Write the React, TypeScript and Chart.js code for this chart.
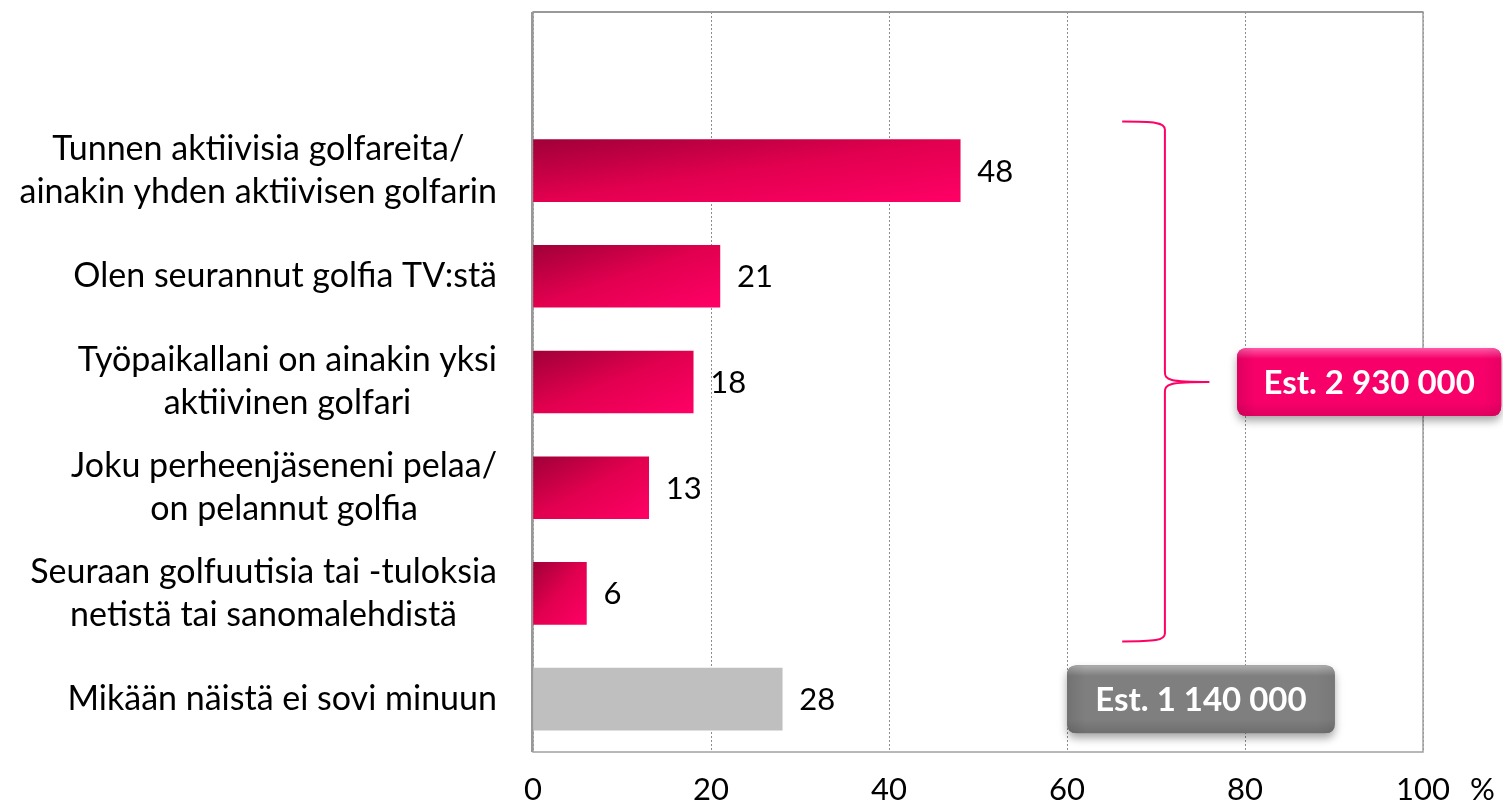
import React, { useEffect, useRef } from 'react';
import { Chart, registerables } from 'chart.js';
Chart.register(...registerables);

const categories: string[][] = [
  ['Tunnen aktiivisia golfareita/', 'ainakin yhden aktiivisen golfarin'],
  ['Olen seurannut golfia TV:stä'],
  ['Työpaikallani on ainakin yksi', 'aktiivinen golfari'],
  ['Joku perheenjäseneni pelaa/', 'on pelannut golfia'],
  ['Seuraan golfuutisia tai -tuloksia', 'netistä tai sanomalehdistä'],
  ['Mikään näistä ei sovi minuun'],
];
const values: number[] = [48, 21, 18, 13, 6, 28];
const xTicks: number[] = [0, 20, 40, 60, 80, 100];
const unitLabel = '%';
const estimatePink = 'Est. 2 930 000';
const estimateGray = 'Est. 1 140 000';

const FONT = 'Lato, "Open Sans", sans-serif';
const FS = 31;
const LABEL_FS = 34;
const W = 1503;
const H = 805;

function roundRect(ctx: CanvasRenderingContext2D, x: number, y: number, w: number, h: number, r: number) {
  ctx.beginPath();
  ctx.moveTo(x + r, y);
  ctx.lineTo(x + w - r, y);
  ctx.quadraticCurveTo(x + w, y, x + w, y + r);
  ctx.lineTo(x + w, y + h - r);
  ctx.quadraticCurveTo(x + w, y + h, x + w - r, y + h);
  ctx.lineTo(x + r, y + h);
  ctx.quadraticCurveTo(x, y + h, x, y + h - r);
  ctx.lineTo(x, y + r);
  ctx.quadraticCurveTo(x, y, x + r, y);
  ctx.closePath();
}

function drawBox(ctx: CanvasRenderingContext2D, x: number, y: number, w: number, h: number, base: string, light: string, dark: string, text: string) {
  ctx.save();
  ctx.shadowColor = 'rgba(0,0,0,0.35)';
  ctx.shadowBlur = 9;
  ctx.shadowOffsetY = 5;
  roundRect(ctx, x, y, w, h, 10);
  ctx.fillStyle = base;
  ctx.fill();
  ctx.restore();
  ctx.save();
  roundRect(ctx, x, y, w, h, 10);
  ctx.clip();
  const g = ctx.createLinearGradient(0, y, 0, y + h);
  g.addColorStop(0, light);
  g.addColorStop(0.16, base);
  g.addColorStop(0.8, base);
  g.addColorStop(1, dark);
  ctx.fillStyle = g;
  ctx.fillRect(x, y, w, h);
  const g2 = ctx.createLinearGradient(x, 0, x + w, 0);
  g2.addColorStop(0, 'rgba(0,0,0,0.10)');
  g2.addColorStop(0.07, 'rgba(0,0,0,0)');
  g2.addColorStop(0.93, 'rgba(0,0,0,0)');
  g2.addColorStop(1, 'rgba(0,0,0,0.06)');
  ctx.fillStyle = g2;
  ctx.fillRect(x, y, w, h);
  ctx.restore();
  ctx.save();
  ctx.fillStyle = '#FFFFFF';
  ctx.font = `bold 33px ${FONT}`;
  ctx.textAlign = 'center';
  ctx.textBaseline = 'middle';
  ctx.fillText(text, x + w / 2, y + h / 2 + 1);
  ctx.restore();
}

const overlayPlugin = {
  id: 'overlay',
  beforeDatasetsDraw(chart: any) {
    const { ctx, chartArea: a } = chart;
    ctx.save();
    ctx.strokeStyle = '#A0A0A0';
    ctx.lineWidth = 1.5;
    ctx.strokeRect(a.left, a.top, a.right - a.left, a.bottom - a.top);
    ctx.lineWidth = 2;
    ctx.strokeStyle = '#999999';
    ctx.beginPath();
    ctx.moveTo(a.left - 1, a.top);
    ctx.lineTo(a.left - 1, a.bottom);
    ctx.moveTo(a.left, a.top);
    ctx.lineTo(a.right, a.top);
    ctx.stroke();
    ctx.restore();
  },
  afterDraw(chart: any) {
    const { ctx } = chart;
    const xs = chart.scales.x;
    const ys = chart.scales.y;
    // category labels
    ctx.save();
    ctx.font = `${LABEL_FS}px ${FONT}`;
    ctx.fillStyle = '#000';
    ctx.textAlign = 'center';
    ctx.textBaseline = 'middle';
    const rightEdge = xs.left - 36;
    categories.forEach((lines, i) => {
      const yc = ys.getPixelForValue(i + 1);
      const maxW = Math.max(...lines.map((l) => ctx.measureText(l).width));
      const cx = rightEdge - maxW / 2;
      lines.forEach((l, j) => {
        ctx.fillText(l, cx, yc + (j - (lines.length - 1) / 2) * 43);
      });
    });
    // value labels
    ctx.font = `${FS}px ${FONT}`;
    ctx.textAlign = 'left';
    const meta = chart.getDatasetMeta(0);
    meta.data.forEach((el: any, i: number) => {
      if (i === 0) return;
      ctx.fillText(String(values[i - 1]), el.x + 17, el.y + 1);
    });
    // unit label
    ctx.fillText(unitLabel, xs.getPixelForValue(100) + 47, 790);
    // brace
    const yT = ys.getPixelForValue(1) - 49;
    const yB = ys.getPixelForValue(5) + 48;
    const yM = ys.getPixelForValue(3);
    const xV = xs.getPixelForValue(71);
    const xL = xs.getPixelForValue(66.2);
    const xTip = xs.getPixelForValue(76);
    ctx.strokeStyle = '#FF0066';
    ctx.lineWidth = 2;
    ctx.beginPath();
    ctx.moveTo(xL, yT);
    ctx.bezierCurveTo(xV - 10, yT, xV, yT + 1, xV, yT + 8);
    ctx.lineTo(xV, yM - 10);
    ctx.bezierCurveTo(xV, yM - 2, xV + 4, yM, xTip, yM);
    ctx.moveTo(xTip, yM);
    ctx.bezierCurveTo(xV + 4, yM, xV, yM + 2, xV, yM + 10);
    ctx.lineTo(xV, yB - 8);
    ctx.bezierCurveTo(xV, yB - 1, xV - 10, yB, xL, yB);
    ctx.stroke();
    ctx.restore();
    // boxes
    const bh = 68;
    const p0 = xs.getPixelForValue(79.1);
    const p1 = xs.getPixelForValue(108.8);
    drawBox(ctx, p0, yM - bh / 2, p1 - p0, bh, '#F7006A', '#FF5AA8', '#E00060', estimatePink);
    const g0 = xs.getPixelForValue(60);
    const g1 = xs.getPixelForValue(90.1);
    const yG = ys.getPixelForValue(6);
    drawBox(ctx, g0, yG - bh / 2, g1 - g0, bh, '#7F7F7F', '#B0B0B0', '#6E6E6E', estimateGray);
  },
};

export default function App() {
  const ref = useRef<HTMLCanvasElement | null>(null);
  useEffect(() => {
    document.body.style.margin = '0';
    const canvas = ref.current!;
    const labels = ['', ...categories.map((c) => c.join(' '))];
    const data = [null, ...values];
    const chart = new Chart(canvas, {
      type: 'bar',
      data: {
        labels,
        datasets: [
          {
            data,
            barThickness: 62,
            backgroundColor: (c: any) => {
              const i = c.dataIndex;
              if (i === labels.length - 1) return '#BFBFBF';
              const xs = c.chart.scales?.x;
              const ys = c.chart.scales?.y;
              const v = values[i - 1];
              if (!xs || !ys || v == null || !c.chart.ctx) return '#E0004F';
              const x0 = xs.getPixelForValue(0);
              const x1 = xs.getPixelForValue(v);
              const yc = ys.getPixelForValue(i);
              const top = yc - 31;
              const w = x1 - x0;
              const h = 62;
              const d = w * w + h * h;
              const px = (2 * w * h * h) / d;
              const py = (2 * w * w * h) / d;
              const g = c.chart.ctx.createLinearGradient(x0, top, x0 + px, top + py);
              g.addColorStop(0, '#A00038');
              g.addColorStop(0.5, '#E2004F');
              g.addColorStop(1, '#FF0066');
              return g;
            },
            borderWidth: 0,
          } as any,
        ],
      },
      options: {
        indexAxis: 'y',
        animation: false,
        responsive: false,
        layout: { padding: { top: 12, right: 80, left: 0, bottom: 0 } },
        plugins: { legend: { display: false }, tooltip: { enabled: false } },
        scales: {
          x: {
            min: 0,
            max: 100,
            afterBuildTicks: (s: any) => {
              s.ticks = xTicks.map((v) => ({ value: v }));
            },
            afterFit: (s: any) => {
              s.height = 53;
            },
            ticks: {
              font: { family: FONT, size: FS },
              color: '#000',
              padding: 19,
            },
            grid: { color: '#8C8C8C', lineWidth: 1, drawTicks: false },
            border: { display: false, dash: [2, 2] },
          },
          y: {
            afterFit: (s: any) => {
              s.width = 533;
            },
            ticks: { display: false },
            grid: { display: false },
            border: { display: false },
          },
        },
      },
      plugins: [overlayPlugin],
    });
    return () => chart.destroy();
  }, []);
  return <canvas ref={ref} width={W} height={H} style={{ display: 'block' }} />;
}
